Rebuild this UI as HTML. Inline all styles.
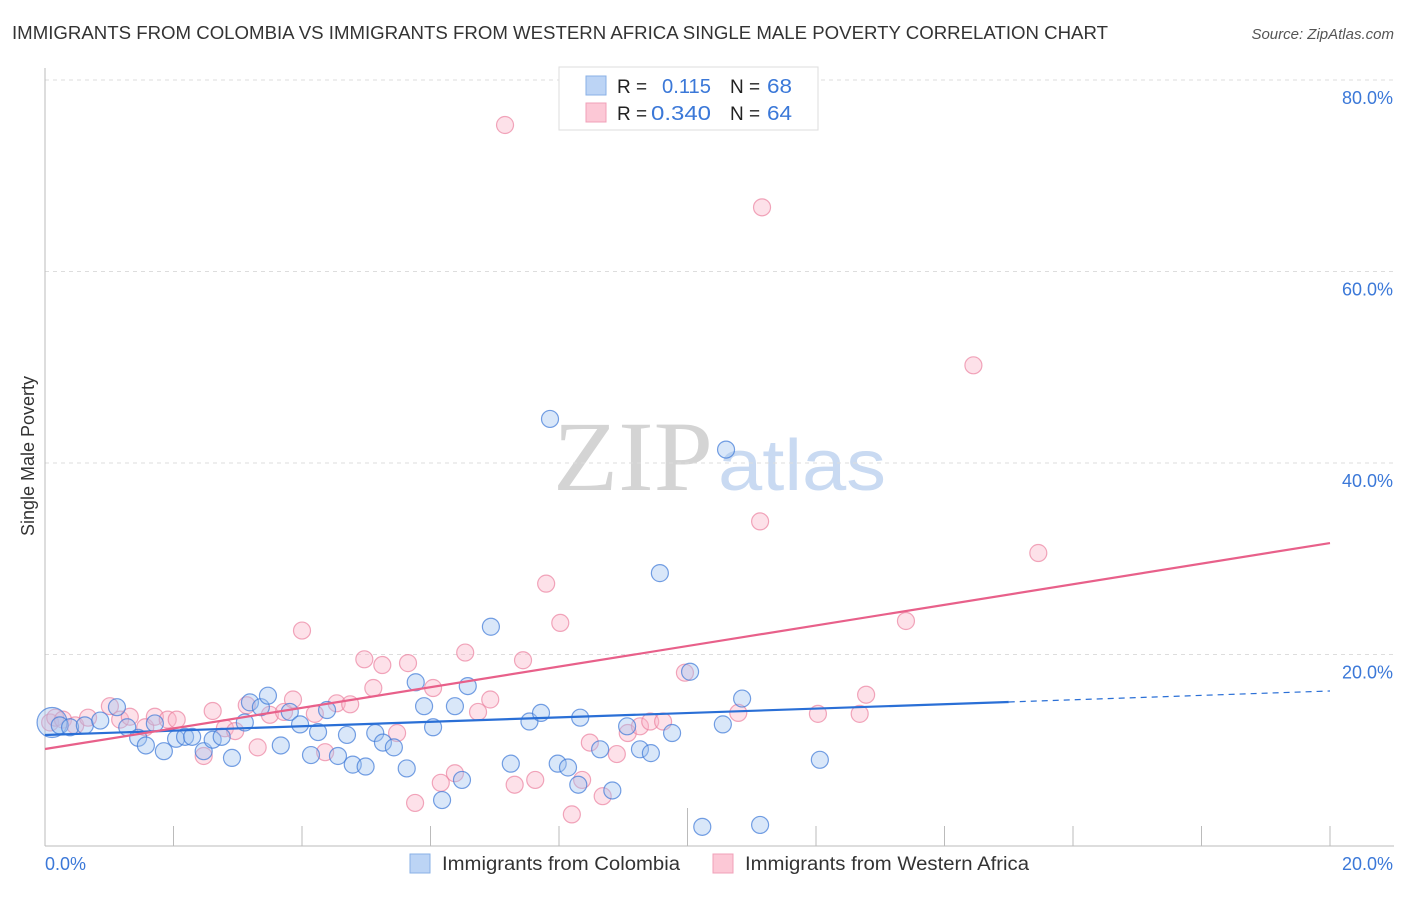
<!DOCTYPE html>
<html><head><meta charset="utf-8"><style>
body{margin:0;background:#fff;font-family:"Liberation Sans",sans-serif;}
svg text{font-family:"Liberation Sans",sans-serif;}
svg text.serif{font-family:"Liberation Serif",serif;}
</style></head><body>
<svg id="chart" width="1406" height="892">
<text x="12" y="39" font-size="18" fill="#333" textLength="1096" lengthAdjust="spacingAndGlyphs">IMMIGRANTS FROM COLOMBIA VS IMMIGRANTS FROM WESTERN AFRICA SINGLE MALE POVERTY CORRELATION CHART</text>
<text x="1394" y="39" font-size="15" fill="#555" font-style="italic" text-anchor="end">Source: ZipAtlas.com</text>
<text class="serif" x="553" y="490" font-size="100" fill="#d4d4d4" textLength="160" lengthAdjust="spacingAndGlyphs">ZIP</text>
<text x="718" y="490" font-size="72" fill="#c9daf2" textLength="168" lengthAdjust="spacingAndGlyphs">atlas</text>
<text transform="translate(34,456) rotate(-90)" font-size="18" fill="#333" text-anchor="middle">Single Male Poverty</text>
<g id="grid"></g><g id="axes"></g><g id="pts"></g><g id="lines"></g>
<g>
<rect x="559" y="67" width="259" height="63" fill="#fff" stroke="#ddd"/>
<rect x="586" y="76" width="20" height="19" fill="#bcd4f5" stroke="#8ab0e6"/>
<rect x="586" y="103" width="20" height="19" fill="#fcc8d6" stroke="#f0a0b8"/>
<text x="617" y="93" font-size="19" fill="#222">R = </text><text x="662" y="93" font-size="20" fill="#3b78d8" textLength="49" lengthAdjust="spacingAndGlyphs">0.115</text>
<text x="730" y="93" font-size="19" fill="#222">N = </text><text x="767" y="93" font-size="20" fill="#3b78d8" textLength="25" lengthAdjust="spacingAndGlyphs">68</text>
<text x="617" y="120" font-size="19" fill="#222">R = </text><text x="651" y="120" font-size="20" fill="#3b78d8" textLength="60" lengthAdjust="spacingAndGlyphs">0.340</text>
<text x="730" y="120" font-size="19" fill="#222">N = </text><text x="767" y="120" font-size="20" fill="#3b78d8" textLength="25" lengthAdjust="spacingAndGlyphs">64</text>
</g>
<g>
<rect x="410" y="854" width="20" height="19" fill="#bcd4f5" stroke="#8ab0e6"/>
<text x="442" y="870" font-size="19" fill="#333" textLength="238" lengthAdjust="spacingAndGlyphs">Immigrants from Colombia</text>
<rect x="713" y="854" width="20" height="19" fill="#fcc8d6" stroke="#f0a0b8"/>
<text x="745" y="870" font-size="19" fill="#333" textLength="284" lengthAdjust="spacingAndGlyphs">Immigrants from Western Africa</text>
</g>
</svg>
<script>
const blueX=[0.11,0.23,0.39,0.62,0.86,1.12,1.28,1.45,1.57,1.71,1.85,2.04,2.18,2.29,2.47,2.61,2.75,2.91,3.11,3.19,3.36,3.47,3.67,3.81,3.97,4.14,4.25,4.39,4.56,4.70,4.79,4.99,5.14,5.26,5.43,5.63,5.77,5.90,6.04,6.18,6.38,6.49,6.58,6.94,7.25,7.54,7.72,7.86,7.98,8.14,8.30,8.33,8.64,8.83,9.06,9.26,9.43,9.57,9.76,10.04,10.23,10.55,10.60,10.85,11.13,12.06];
const blueY=[12.9,12.6,12.4,12.6,13.1,14.5,12.4,11.3,10.5,12.8,9.9,11.2,11.4,11.4,9.9,11.1,11.4,9.2,12.9,15.0,14.5,15.7,10.5,14.0,12.7,9.5,11.9,14.2,9.4,11.6,8.5,8.3,11.8,10.8,10.3,8.1,17.1,14.6,12.4,4.8,14.6,6.9,16.7,22.9,8.6,13.0,13.9,44.6,8.6,8.2,6.4,13.4,10.1,5.8,12.5,10.1,9.7,28.5,11.8,18.2,2.0,12.7,41.4,15.4,2.2,9.0];
const pinkX=[0.08,0.16,0.28,0.47,0.67,1.01,1.17,1.32,1.56,1.71,1.91,2.05,2.47,2.61,2.80,2.96,3.14,3.31,3.50,3.72,3.86,4.00,4.20,4.36,4.54,4.75,4.97,5.11,5.25,5.48,5.65,5.76,6.04,6.16,6.38,6.54,6.74,6.93,7.16,7.31,7.44,7.63,7.80,8.02,8.20,8.36,8.48,8.68,8.90,9.07,9.26,9.42,9.62,9.96,10.79,11.13,11.16,12.03,12.68,12.78,13.40,14.45,15.46];
const pinkY=[12.9,13.4,13.2,12.6,13.4,14.6,13.2,13.5,12.4,13.5,13.2,13.2,9.4,14.1,12.3,12.0,14.7,10.3,13.7,14.0,15.3,22.5,13.8,9.8,14.9,14.8,19.5,16.5,18.9,11.8,19.1,4.5,16.5,6.6,7.6,20.2,14.0,15.3,75.3,6.4,19.4,6.9,27.4,23.3,3.3,6.9,10.8,5.2,9.6,11.8,12.5,13.0,13.0,18.1,13.9,33.9,66.7,13.8,13.8,15.8,23.5,50.2,30.6];
const tickY=[20,40,60,80];
const trendBlue=[11.59,16.19], trendPink=[10.13,31.64], blueSolidEnd=15.0;
const X=v=>45+v/20*1285, Y=v=>846-v/20*191.5;
const NS='http://www.w3.org/2000/svg';
function mk(tag,attrs,parent){const e=document.createElementNS(NS,tag);for(const k in attrs)e.setAttribute(k,attrs[k]);document.getElementById(parent).appendChild(e);return e;}
tickY.forEach(t=>{
 const l=mk('line',{x1:45,x2:1394,y1:Y(t),y2:Y(t),stroke:'#ddd','stroke-dasharray':'4,4'},'grid');
 
 
 const tx=mk('text',{x:1393,y:Y(t)+24,'font-size':18,fill:'#3b78d8','text-anchor':'end'},'grid');
 tx.textContent=t.toFixed(1)+'%';
 
 
});
const ax=mk('line',{x1:45,x2:1394,y1:846,y2:846,stroke:'#bbb'},'axes');


const ay=mk('line',{x1:45,x2:45,y1:68,y2:846,stroke:'#bbb'},'axes');


for(let i=1;i<=10;i++){const x=X(i*2);const tk=mk('line',{x1:x,x2:x,y1:i==5?808:826,y2:846,stroke:'#bbb'},'axes');
 
 }
const xl0=mk('text',{x:45,y:870,'font-size':18,fill:'#3b78d8'},'axes');xl0.textContent='0.0%';


const xl1=mk('text',{x:1393,y:870,'font-size':18,fill:'#3b78d8','text-anchor':'end'},'axes');xl1.textContent='20.0%';


pinkX.forEach((v,i)=>{const c=mk('circle',{cx:X(v),cy:Y(pinkY[i]),r:8.5,fill:'rgba(250,180,200,0.4)',stroke:'rgba(235,130,160,0.7)','stroke-width':1.2},'pts');
 
 });
blueX.forEach((v,i)=>{const c=mk('circle',{cx:X(v),cy:Y(blueY[i]),r:i==0?15:8.5,fill:'rgba(160,195,240,0.4)',stroke:'rgba(60,120,215,0.7)','stroke-width':1.2},'pts');
 
 });
const bY=x=>trendBlue[0]+(trendBlue[1]-trendBlue[0])*x/20;
const t1=mk('line',{x1:X(0),y1:Y(bY(0)),x2:X(blueSolidEnd),y2:Y(bY(blueSolidEnd)),stroke:'#2a6fd6','stroke-width':2.2},'lines');


const t2=mk('line',{x1:X(blueSolidEnd),y1:Y(bY(blueSolidEnd)),x2:X(20),y2:Y(bY(20)),stroke:'#2a6fd6','stroke-width':1.2,'stroke-dasharray':'6,5'},'lines');


const t3=mk('line',{x1:X(0),y1:Y(trendPink[0]),x2:X(20),y2:Y(trendPink[1]),stroke:'#e8608a','stroke-width':2.2},'lines');


</script>
</body></html>
